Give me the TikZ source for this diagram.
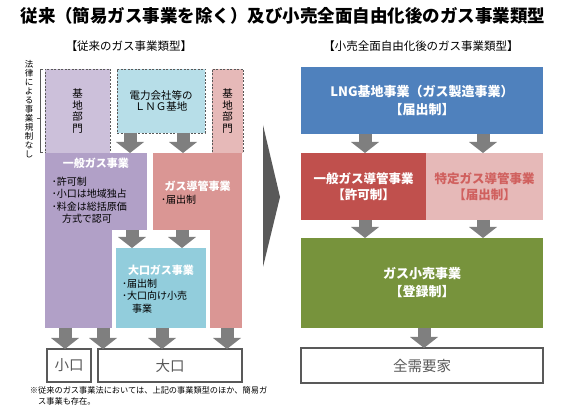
\documentclass[tikz,border=0pt]{standalone}
\usepackage{fontspec}
\setmainfont{Noto Sans CJK JP}
\usetikzlibrary{arrows.meta,positioning}
\definecolor{KPurpleLt}{HTML}{CCC0DA}
\definecolor{KBlueLt}{HTML}{B7DEE8}
\definecolor{KPinkLt}{HTML}{E6B9B8}
\definecolor{KPurple}{HTML}{B1A0C7}
\definecolor{KPink}{HTML}{DA9694}
\definecolor{KBlue}{HTML}{92CDDC}
\definecolor{NBlue}{HTML}{4F81BD}
\definecolor{NRed}{HTML}{C0504D}
\definecolor{NPinkLt}{HTML}{E6B9B8}
\definecolor{NPinkTxt}{HTML}{D0605E}
\definecolor{NGreen}{HTML}{77933C}
\definecolor{ArrowGray}{HTML}{7F7F7F}
\definecolor{FrameGray}{HTML}{595959}

\begin{document}
\begin{tikzpicture}[x=1pt,y=-1pt,
  every node/.style={inner sep=0pt,outer sep=0pt},
  kbox/.style={draw=FrameGray,dash pattern=on 2pt off 1.5pt,line width=0.8pt,align=center,
               font=\fontsize{10.5}{11.5}\selectfont},
  headtxt/.style={text=white,font=\bfseries\fontsize{11}{13}\selectfont},
  bullettxt/.style={align=left,font=\fontsize{10}{12.5}\selectfont},
  ntxt/.style={text=white,align=center,font=\bfseries\fontsize{13}{18}\selectfont},
  endbox/.style={draw=FrameGray,line width=1.8pt,fill=white,text=FrameGray,
                 font=\fontsize{14.5}{16}\selectfont},
  blk/.style={draw=ArrowGray,line width=13pt,-{Triangle[width=28pt,length=11pt,line width=0pt]}}
]
\useasboundingbox (0,0) rectangle (566,414);
% titles
\node[font=\bfseries\fontsize{17.5}{20}\selectfont] (title) at (283,16) {従来（簡易ガス事業を除く）及び小売全面自由化後のガス事業類型};
\node[font=\fontsize{11.5}{13}\selectfont] (oldt) at (129,46) {【従来のガス事業類型】};
\node[font=\fontsize{11.5}{13}\selectfont] (newt) at (421,46) {【小売全面自由化後のガス事業類型】};

% old structure
\node[font=\fontsize{8.5}{9}\selectfont,align=center] (nashi) at (29,109) {法\\律\\に\\よ\\る\\事\\業\\規\\制\\な\\し};
\draw[FrameGray,line width=0.7pt] (43,69) -- (40,69) -- (40,152) -- (43,152) (37,118) -- (40,118);
\node[kbox,fill=KPurpleLt,minimum width=65pt,minimum height=84pt] (kichip) at (77.5,111) {基\\地\\部\\門};
\node[kbox,fill=KBlueLt,minimum width=88pt,minimum height=64pt] (lngbase) at (161,101) {電力会社等の\\ＬＮＧ基地};
\node[kbox,fill=KPinkLt,minimum width=31pt,minimum height=84pt] (kichir) at (227.5,111) {基\\地\\部\\門};

\node[fill=KPurple,minimum width=102pt,minimum height=77pt] (ippan) at (96,191.5) {};
\node[fill=KPurple,minimum width=67pt,minimum height=98pt] (ippanleg) at (78.5,279) {};
\node[fill=KPink,minimum width=89pt,minimum height=77pt] (doukan) at (197.5,191.5) {};
\node[fill=KPink,minimum width=32pt,minimum height=98pt] (doukanleg) at (226,279) {};
\node[fill=KBlue,minimum width=90pt,minimum height=80pt] (ooguchi) at (161,288) {};

\node[headtxt,below=5pt of ippan.north] (ippanhead) {一般ガス事業};
\node[bullettxt,below right=24pt and 7pt of ippan.north west] (ippanlist)
  {･許可制\\･小口は地域独占\\･料金は総括原価\\\hspace*{1em}方式で認可};
\node[headtxt,below=28pt of doukan.north] (doukanhead) {ガス導管事業};
\node[bullettxt,below right=42pt and 8pt of doukan.north west] (doukanlist) {･届出制};
\node[headtxt,below=17pt of ooguchi.north] (ooguchihead) {大口ガス事業};
\node[bullettxt,below right=31pt and 6pt of ooguchi.north west] (ooguchilist)
  {･届出制\\･大口向け小売\\\hspace*{1em}事業};

\node[endbox,minimum width=44pt,minimum height=33pt] (koguchibox) at (69,365.5) {小口};
\node[endbox,minimum width=144pt,minimum height=33pt] (ooguchibox) at (170,365.5) {大口};

\foreach \a/\b/\x in {lngbase/ippan/130,lngbase/doukan/183,ippan/ooguchi/132,doukan/ooguchi/182,
    ippanleg/koguchibox/65,ippanleg/ooguchibox/103,ooguchi/ooguchibox/162,doukanleg/ooguchibox/227}
  {\draw[blk] (\a.south -| \x,0) -- (\b.north -| \x,0);}

\node[bullettxt,anchor=north west,font=\fontsize{8.2}{11}\selectfont] (note) at (30,387)
  {※従来のガス事業法においては、上記の事業類型のほか、簡易ガ\\\hspace*{1em}ス事業も存在。};

% chevron
\fill[FrameGray] (263,125) -- (280,197) -- (263,267) -- cycle;

% new structure
\node[ntxt,fill=NBlue,minimum width=242pt,minimum height=67pt] (lngjigyo) at (422,100.5)
  {LNG基地事業（ガス製造事業）\\【届出制】};
\node[ntxt,fill=NRed,minimum width=125pt,minimum height=67pt,font=\bfseries\fontsize{12.5}{16}\selectfont] (ippandk) at (363.5,186.5)
  {一般ガス導管事業\\【許可制】};
\node[ntxt,fill=NPinkLt,text=NPinkTxt,minimum width=117pt,minimum height=67pt,font=\bfseries\fontsize{12.5}{16}\selectfont] (tokutei) at (484.5,186.5)
  {特定ガス導管事業\\【届出制】};
\node[ntxt,fill=NGreen,minimum width=242pt,minimum height=90pt] (kouri) at (422,283)
  {ガス小売事業\\【登録制】};
\node[endbox,minimum width=242pt,minimum height=35pt] (zenjuyo) at (422,365.5) {全需要家};

\foreach \a/\b/\x in {lngjigyo/ippandk/365,lngjigyo/tokutei/483,ippandk/kouri/365,tokutei/kouri/483,kouri/zenjuyo/424}
  {\draw[blk] (\a.south -| \x,0) -- (\b.north -| \x,0);}
\end{tikzpicture}
\end{document}
